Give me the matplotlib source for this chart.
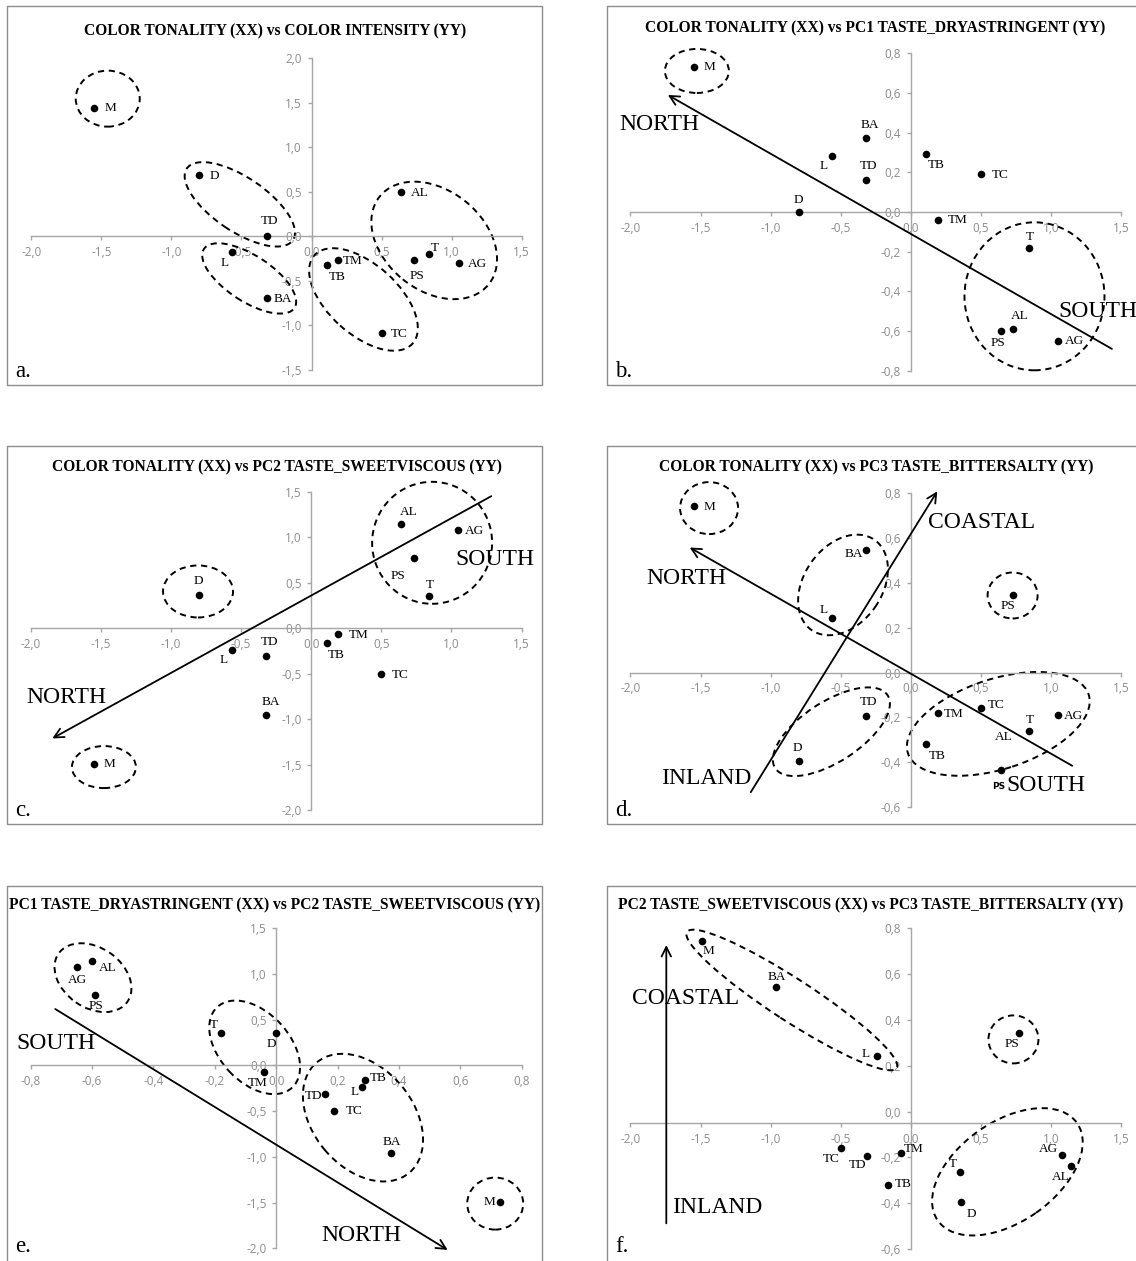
import numpy as np
import matplotlib
matplotlib.use("Agg")
import matplotlib.pyplot as plt
import matplotlib.transforms as mtransforms
from matplotlib.patches import Ellipse, Rectangle
from matplotlib.ticker import MultipleLocator, FuncFormatter

#* samples and scores
samples = ["M", "D", "TD", "L", "BA", "TB", "TM", "TC", "AL", "PS", "T", "AG"]
color_tonality = [-1.55, -0.80, -0.32, -0.565, -0.32, 0.11, 0.19, 0.50, 0.64, 0.73, 0.84, 1.05]
color_intensity = [1.44, 0.69, 0.00, -0.18, -0.69, -0.32, -0.26, -1.09, 0.50, -0.27, -0.20, -0.30]
pc1_dryastringent = [0.73, 0.00, 0.16, 0.28, 0.375, 0.29, -0.04, 0.19, -0.60, -0.59, -0.18, -0.65]
pc2_sweetviscous = [-1.49, 0.36, -0.31, -0.24, -0.96, -0.16, -0.07, -0.50, 1.14, 0.77, 0.35, 1.08]
pc3_bittersalty = [0.745, -0.395, -0.195, 0.243, 0.545, -0.32, -0.18, -0.158, -0.237, 0.345, -0.262, -0.19]
#* panel d shows AL lower than the other panels do
pc3_bittersalty_d = [0.745, -0.395, -0.195, 0.243, 0.545, -0.32, -0.18, -0.158, -0.435, 0.345, -0.262, -0.19]

W, H = 1136, 1261
fig = plt.figure(figsize=(W / 100, H / 100), dpi=100)

SERIF = "Liberation Serif"
GRAY = "#8c8c8c"


def fmt(v, pos):
    if abs(v) < 1e-9:
        v = 0.0
    return f"{v:.1f}".replace(".", ",")


def ring(ax, cx, cy, a, b, ang):
    #* ellipse with semi-axes in pixels, centred on a data point
    tr = fig.dpi_scale_trans + mtransforms.ScaledTranslation(cx, cy, ax.transData)
    e = Ellipse((0, 0), 2 * a / 100, 2 * b / 100, angle=ang, transform=tr, fill=False,
                ec="black", lw=1.4, ls=(0, (3.2, 2.4)), clip_on=False, zorder=2)
    ax.add_patch(e)


panels = [
    dict(letter="a.", lpos=(8, 371), border=(7, 6, 542, 385), box=(31.4, 521.6, 58.3, 370),
         title="COLOR TONALITY (XX) vs COLOR INTENSITY (YY)", tpos=(274.6, 31.7),
         x=color_tonality, y=color_intensity, xlim=(-2, 1.5), ylim=(-1.5, 2.0), xs=0.5, ys=0.5, cross=0,
         offs={"M": (16, 0), "D": (15, -1), "TD": (3, 15), "L": (-8, -11), "BA": (16, -1), "TB": (10, -12),
               "TM": (15, -1), "TC": (18, -1), "AL": (19, -1), "PS": (3, -16), "T": (6, 6), "AG": (19, -1)},
         rings=[(-1.455, 1.547, 32, 28, 0), (-0.512, 0.36, 64, 27, -34), (-0.445, -0.472, 54, 23, -33),
                (0.371, -0.708, 66, 35, -42), (0.876, -0.045, 70, 50, -39)],
         arrows=[], words=[]),
    dict(letter="b.", lpos=(8, 371), border=(607, 6, 1145, 385), box=(630.4, 1121.3, 53.3, 370.7),
         title="COLOR TONALITY (XX) vs PC1 TASTE_DRYASTRINGENT (YY)", tpos=(875, 28.3),
         x=color_tonality, y=pc1_dryastringent, xlim=(-2, 1.5), ylim=(-0.8, 0.8), xs=0.5, ys=0.2, cross=0,
         offs={"M": (16, 0), "BA": (4, 13), "L": (-8, -10), "TD": (3, 14), "D": (0, 12), "TB": (10, -11),
               "TC": (19, -1), "TM": (20, 0), "T": (1, 11), "AL": (19, 15), "PS": (-15, -14), "AG": (16, 0)},
         rings=[(-1.526, 0.711, 32, 22, 0), (0.881, -0.425, 70, 74, 0)],
         arrows=[((1.433, -0.69), (-1.733, 0.59))],
         words=[("NORTH", -1.79, 0.439), ("SOUTH", 1.33, -0.503)]),
    dict(letter="c.", lpos=(8, 810), border=(7, 446, 542, 824), box=(30.7, 521.6, 491.7, 810),
         title="COLOR TONALITY (XX) vs PC2 TASTE_SWEETVISCOUS (YY)", tpos=(276.5, 467.7),
         x=color_tonality, y=pc2_sweetviscous, xlim=(-2, 1.5), ylim=(-2.0, 1.5), xs=0.5, ys=0.5, cross=0,
         offs={"AL": (8, 12), "AG": (16, -1), "PS": (-16, -18), "T": (1, 11), "D": (-1, 14), "TD": (3, 14),
               "L": (-8, -10), "TB": (10, -12), "TM": (21, -1), "TC": (19, -1), "BA": (5, 13), "M": (16, 0)},
         rings=[(-0.807, 0.403, 35, 26, 0), (-1.478, -1.528, 32, 21, 0), (0.862, 0.938, 60, 61, 0)],
         arrows=[((1.284, 1.451), (-1.846, -1.213))],
         words=[("NORTH", -1.746, -0.766), ("SOUTH", 1.309, 0.755)]),
    dict(letter="d.", lpos=(8, 810), border=(607, 446, 1145, 824), box=(630.4, 1121.3, 493.3, 807),
         title="COLOR TONALITY (XX) vs PC3 TASTE_BITTERSALTY (YY)", tpos=(875.7, 467.7),
         x=color_tonality, y=pc3_bittersalty_d, xlim=(-2, 1.5), ylim=(-0.6, 0.8), xs=0.5, ys=0.2, cross=0,
         offs={"M": (16, -1), "BA": (-12, -4), "L": (-8, 8), "PS": (-5, -11), "TD": (3, 14), "D": (-1, 13),
               "TM": (16, -1), "TC": (15, 3), "T": (1, 11), "AG": (15, -1), "TB": (11, -12), "AL": (3, 33)},
         rings=[(-1.439, 0.734, 29, 26, 0), (-0.484, 0.391, 55, 39, 55), (0.725, 0.344, 25, 23, 0),
                (-0.567, -0.264, 67, 30, 33), (0.623, -0.229, 95, 45, 18)],
         arrows=[((1.15, -0.416), (-1.577, 0.558)), ((-1.142, -0.534), (0.188, 0.809))],
         words=[("NORTH", -1.601, 0.421), ("COASTAL", 0.506, 0.669), ("INLAND", -1.456, -0.475),
                ("SOUTH", 0.961, -0.505)]),
    dict(letter="e.", lpos=(8, 1247), border=(7, 886, 542, 1275), box=(30.7, 521.6, 928.3, 1248.3),
         title="PC1 TASTE_DRYASTRINGENT (XX) vs PC2 TASTE_SWEETVISCOUS (YY)", tpos=(274.4, 905),
         x=pc1_dryastringent, y=pc2_sweetviscous, xlim=(-0.8, 0.8), ylim=(-2.0, 1.5), xs=0.2, ys=0.5, cross=0,
         offs={"AG": (1, -13), "AL": (16, -7), "PS": (1, -11), "T": (-7, 8), "D": (-5, -11), "TM": (-6, -11),
               "TD": (-12, -2), "TC": (20, 0), "L": (-7, -5), "TB": (13, 2), "BA": (1, 11), "M": (-11, 0)},
         rings=[(-0.597, 0.960, 42, 30, -35), (-0.07, 0.198, 55, 35, -47), (0.283, -0.571, 72, 50, -50),
                (0.714, -1.511, 28, 26, 0)],
         arrows=[((-0.72, 0.617), (0.559, -2.018))],
         words=[("SOUTH", -0.718, 0.242), ("NORTH", 0.278, -1.859)]),
    dict(letter="f.", lpos=(8, 1247), border=(607, 886, 1145, 1275), box=(630.4, 1121.3, 928.3, 1249),
         title="PC2 TASTE_SWEETVISCOUS (XX) vs PC3 TASTE_BITTERSALTY (YY)", tpos=(871, 905),
         x=pc2_sweetviscous, y=pc3_bittersalty, xlim=(-2, 1.5), ylim=(-0.6, 0.8), xs=0.5, ys=0.2, cross=-0.05,
         offs={"M": (7, -10), "BA": (1, 10), "L": (-12, 2), "PS": (-7, -11), "TC": (-10, -11), "TD": (-10, -9),
               "TM": (13, 4), "TB": (15, 1), "T": (-7, 8), "D": (10, -12), "AG": (-14, 6), "AL": (-10, -11)},
         rings=[(-0.849, 0.487, 125, 21, -33), (0.731, 0.315, 25, 24, 0), (0.688, -0.263, 85, 50, 35)],
         arrows=[((-1.744, -0.488), (-1.744, 0.727))],
         words=[("COASTAL", -1.606, 0.494), ("INLAND", -1.377, -0.419)]),
]

for p in panels:
    #* grey frame round each chart
    bx0, by0, bx1, by1 = p["border"]
    fig.add_artist(Rectangle((bx0 / W, 1 - by1 / H), (bx1 - bx0) / W, (by1 - by0) / H,
                             transform=fig.transFigure, fill=False, ec=GRAY, lw=1.0))
    fig.text(p["tpos"][0] / W, 1 - p["tpos"][1] / H, p["title"], ha="center", va="center",
             family=SERIF, weight="bold", fontsize=11.2)
    fig.text((bx0 + p["lpos"][0]) / W, 1 - p["lpos"][1] / H, p["letter"], ha="left", va="center",
             family=SERIF, fontsize=16.5)

    x0, x1, y0, y1 = p["box"]
    ax = fig.add_axes([x0 / W, 1 - y1 / H, (x1 - x0) / W, (y1 - y0) / H])
    ax.patch.set_visible(False)
    ax.set_xlim(*p["xlim"])
    ax.set_ylim(*p["ylim"])
    for s in ["top", "right"]:
        ax.spines[s].set_visible(False)
    ax.spines["left"].set_position(("data", 0))
    ax.spines["bottom"].set_position(("data", p["cross"]))
    for s in ["left", "bottom"]:
        ax.spines[s].set_color("#a6a6a6")
        ax.spines[s].set_linewidth(1.0)
    ax.xaxis.set_major_locator(MultipleLocator(p["xs"]))
    ax.yaxis.set_major_locator(MultipleLocator(p["ys"]))
    ax.xaxis.set_major_formatter(FuncFormatter(fmt))
    ax.yaxis.set_major_formatter(FuncFormatter(fmt))
    ax.tick_params(direction="out", length=3, width=1.0, color="#a6a6a6", labelcolor=GRAY,
                   labelsize=8.5, pad=4)
    for lab in ax.get_xticklabels() + ax.get_yticklabels():
        lab.set_family("Open Sans")

    for r in p["rings"]:
        ring(ax, *r)
    for tail, head in p["arrows"]:
        ax.annotate("", xy=head, xytext=tail, annotation_clip=False,
                    arrowprops=dict(arrowstyle="->", lw=1.3, color="black", mutation_scale=17,
                                    shrinkA=0, shrinkB=0))
    for word, wx, wy in p["words"]:
        ax.text(wx, wy, word, family=SERIF, fontsize=17, ha="center", va="center", clip_on=False)

    ax.scatter(p["x"], p["y"], s=30, c="black", zorder=4, clip_on=False, linewidths=0)
    for name, xv, yv in zip(samples, p["x"], p["y"]):
        ax.annotate(name, (xv, yv), xytext=p["offs"][name], textcoords="offset pixels",
                    ha="center", va="center", family=SERIF, fontsize=9.5, annotation_clip=False)
    if p["letter"] == "d.":
        #* stray label printed under AL in the source figure
        ax.annotate("PS", (color_tonality[8], pc3_bittersalty_d[8]), xytext=(-2, -16),
                    textcoords="offset pixels", ha="center", va="center", fontsize=6.5,
                    weight="bold", annotation_clip=False)

fig.savefig("out.png", dpi=100)
